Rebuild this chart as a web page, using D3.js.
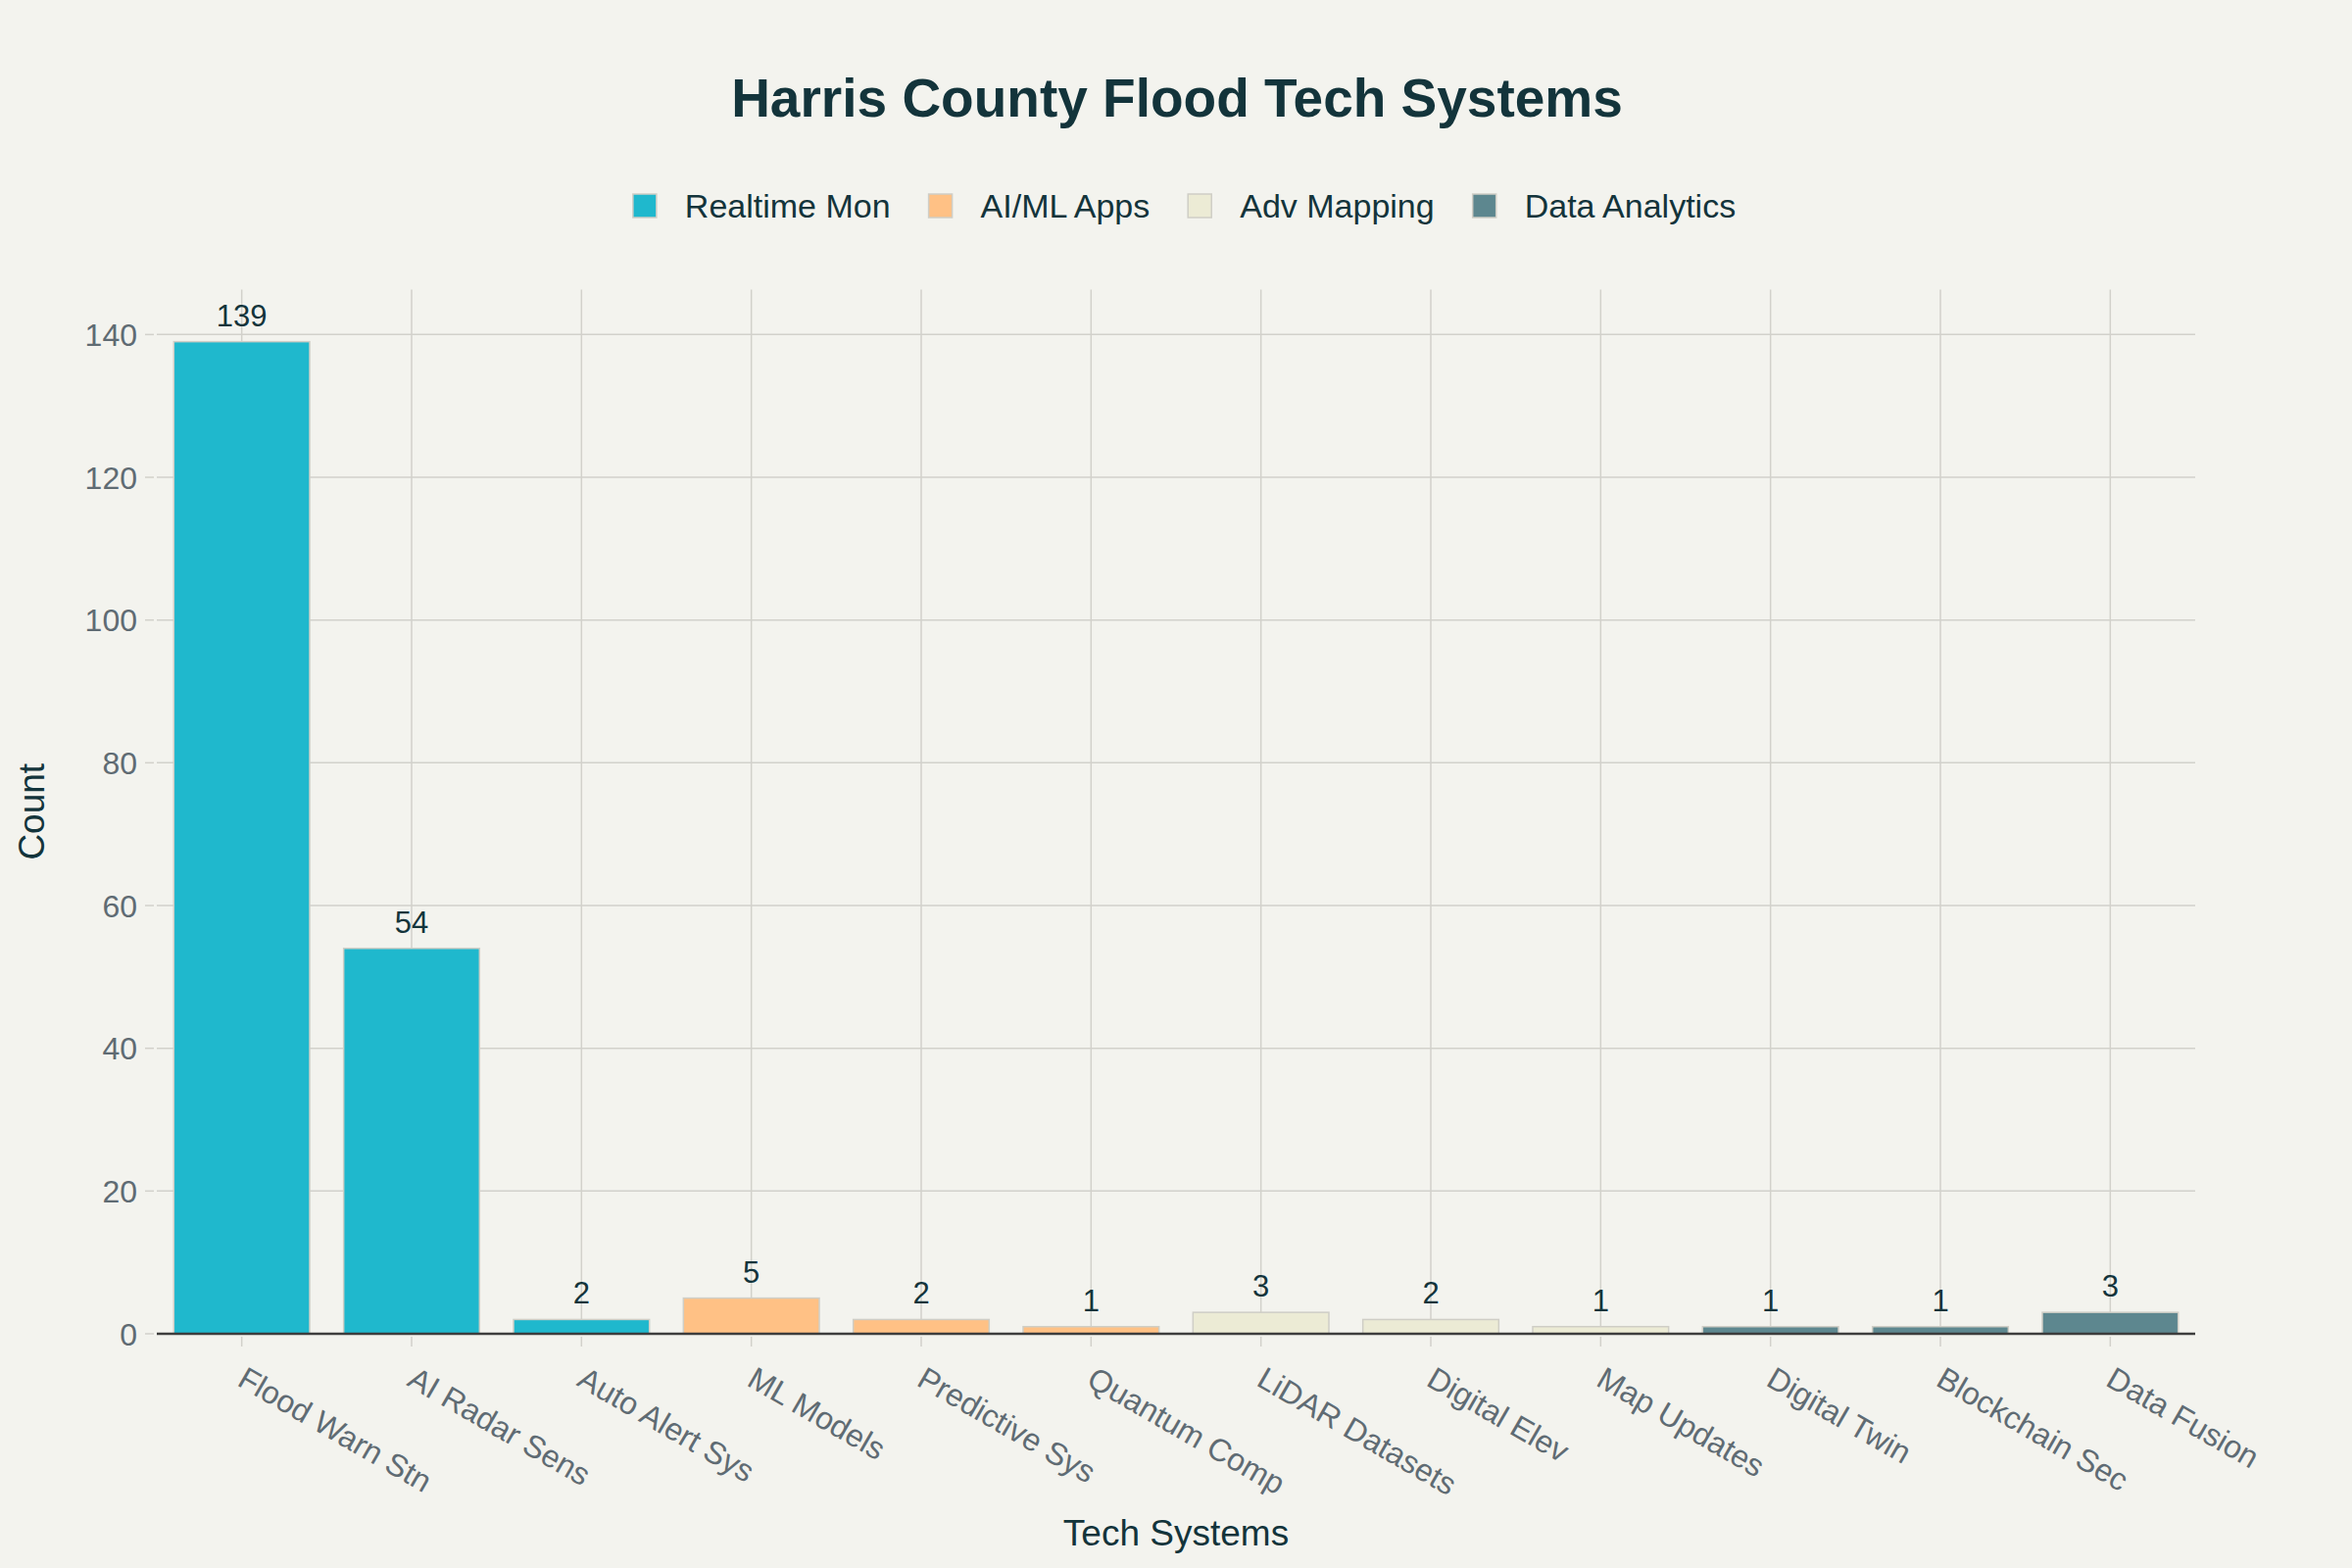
<!DOCTYPE html>
<html>
<head>
<meta charset="utf-8">
<script src="https://cdn.jsdelivr.net/npm/d3@7"></script>
<style>
  html, body { margin: 0; padding: 0; background: #F3F3EE; }
  svg { display: block; }
  text { font-family: "Liberation Sans", Arial, Helvetica, sans-serif; }
</style>
</head>
<body>
<svg id="chart" width="2400" height="1600"></svg>
<script>
// ---- Data ----
const categories = ["Flood Warn Stn", "AI Radar Sens", "Auto Alert Sys", "ML Models", "Predictive Sys", "Quantum Comp", "LiDAR Datasets", "Digital Elev", "Map Updates", "Digital Twin", "Blockchain Sec", "Data Fusion"];
const counts = [139, 54, 2, 5, 2, 1, 3, 2, 1, 1, 1, 3];
const categoryGroup = [0, 0, 0, 1, 1, 1, 2, 2, 2, 3, 3, 3];
const groupNames = ["Realtime Mon", "AI/ML Apps", "Adv Mapping", "Data Analytics"];
const groupColors = ["#1FB8CD", "#FFC185", "#ECEBD5", "#5D878F"];
const yTicks = [0, 20, 40, 60, 80, 100, 120, 140];

const titleText = "Harris County Flood Tech Systems";
const xTitle = "Tech Systems";
const yTitle = "Count";

// ---- Layout ----
const W = 2400, H = 1600;
const plot = { left: 160, right: 2240, top: 295.5, bottom: 1361 };
const svg = d3.select("#chart");

svg.append("rect").attr("width", W).attr("height", H).attr("fill", "#F3F3EE");

const x = d3.scaleBand().domain(categories).range([plot.left, plot.right]).paddingInner(0.2).paddingOuter(0.1);
const yMax = d3.max(counts) * 1.0525;
const y = d3.scaleLinear().domain([0, yMax]).range([plot.bottom, plot.top]);

const gridColor = "#D2D1CB";
const center = c => x(c) + x.bandwidth() / 2;

// horizontal gridlines
svg.append("g").selectAll("line").data(yTicks.filter(t => t > 0)).join("line")
  .attr("x1", plot.left).attr("x2", plot.right)
  .attr("y1", d => y(d)).attr("y2", d => y(d))
  .attr("stroke", gridColor).attr("stroke-width", 1.5);

// vertical gridlines
svg.append("g").selectAll("line").data(categories).join("line")
  .attr("x1", d => center(d)).attr("x2", d => center(d))
  .attr("y1", plot.top).attr("y2", plot.bottom)
  .attr("stroke", gridColor).attr("stroke-width", 1.5);

// y axis ticks and labels
const yAxis = svg.append("g");
yAxis.selectAll("line").data(yTicks).join("line")
  .attr("x1", plot.left - 12).attr("x2", plot.left - 3)
  .attr("y1", d => y(d)).attr("y2", d => y(d))
  .attr("stroke", gridColor).attr("stroke-width", 1.5);
yAxis.selectAll("text").data(yTicks).join("text")
  .attr("x", plot.left - 20).attr("y", d => y(d))
  .attr("dy", "0.36em")
  .attr("text-anchor", "end")
  .attr("font-size", 32).attr("fill", "#5F6B73")
  .text(d => d);

// bars
svg.append("g").selectAll("rect").data(categories).join("rect")
  .attr("x", d => x(d))
  .attr("width", x.bandwidth())
  .attr("y", (d, i) => y(counts[i]))
  .attr("height", (d, i) => y(0) - y(counts[i]))
  .attr("fill", (d, i) => groupColors[categoryGroup[i]])
  .attr("stroke", "#CFCEC6").attr("stroke-width", 1.5);

// value labels
svg.append("g").selectAll("text").data(categories).join("text")
  .attr("x", d => center(d))
  .attr("y", (d, i) => y(counts[i]) - 16)
  .attr("text-anchor", "middle")
  .attr("font-size", 31).attr("fill", "#13343B")
  .text((d, i) => counts[i]);

// zero line
svg.append("line")
  .attr("x1", plot.left).attr("x2", plot.right)
  .attr("y1", y(0)).attr("y2", y(0))
  .attr("stroke", "#3D3D3D").attr("stroke-width", 2.5);

// x ticks and labels
const xAxis = svg.append("g");
xAxis.selectAll("line").data(categories).join("line")
  .attr("x1", d => center(d)).attr("x2", d => center(d))
  .attr("y1", plot.bottom + 3).attr("y2", plot.bottom + 13)
  .attr("stroke", gridColor).attr("stroke-width", 1.5);
xAxis.selectAll("text").data(categories).join("text")
  .attr("transform", d => `translate(${center(d) - 6},${plot.bottom + 52}) rotate(30)`)
  .attr("text-anchor", "start")
  .attr("font-size", 32).attr("fill", "#5F6B73")
  .text(d => d);

// axis titles
svg.append("text")
  .attr("x", (plot.left + plot.right) / 2).attr("y", 1577)
  .attr("text-anchor", "middle")
  .attr("font-size", 37).attr("fill", "#13343B")
  .text(xTitle);
svg.append("text")
  .attr("transform", `translate(45,${(plot.top + plot.bottom) / 2}) rotate(-90)`)
  .attr("text-anchor", "middle")
  .attr("font-size", 37).attr("fill", "#13343B")
  .text(yTitle);

// title
svg.append("text")
  .attr("x", 1201).attr("y", 119)
  .attr("text-anchor", "middle")
  .attr("font-size", 55).attr("font-weight", "bold").attr("fill", "#13343B")
  .text(titleText);

// legend
const legend = svg.append("g");
const sq = 24, textGap = 29, itemGap = 39;
const items = legend.selectAll("g").data(groupNames).join("g");
items.append("rect")
  .attr("width", sq).attr("height", sq)
  .attr("y", 198)
  .attr("fill", (d, i) => groupColors[i])
  .attr("stroke", "#CFCEC6").attr("stroke-width", 1.5);
items.append("text")
  .attr("x", sq + textGap).attr("y", 222)
  .attr("font-size", 34).attr("fill", "#13343B")
  .text(d => d);
let widths = [];
items.each(function () { widths.push(sq + textGap + d3.select(this).select("text").node().getComputedTextLength()); });
const total = d3.sum(widths) + itemGap * (widths.length - 1);
let cx = 1208.5 - total / 2;
items.each(function (d, i) {
  d3.select(this).attr("transform", `translate(${cx},0)`);
  cx += widths[i] + itemGap;
});
</script>
</body>
</html>
